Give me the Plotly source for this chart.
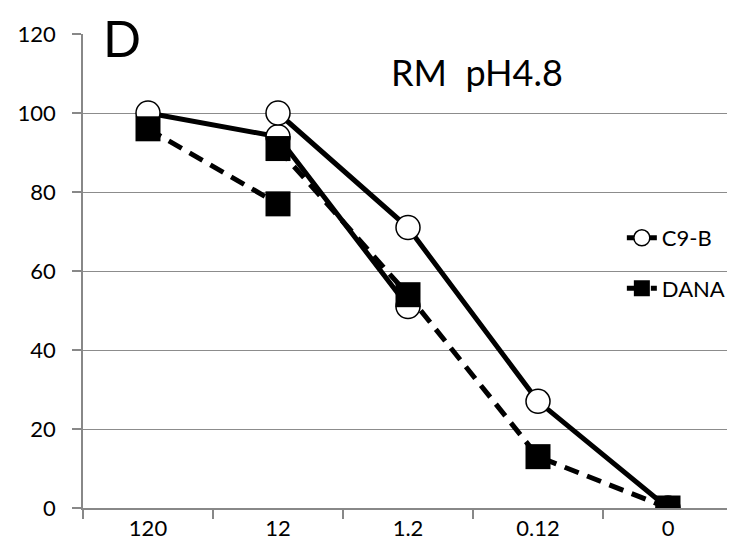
import plotly.graph_objects as go

x_labels = ["120", "12", "1.2", "0.12", "0"]
c9b_upper = [None, 100, 71, 27, 0]
c9b_lower = [100, 94, 51, None, None]
dana_upper = [96, 77, None, None, None]
dana_lower = [None, 91, 54, 13, 0]
y_ticks = [0, 20, 40, 60, 80, 100, 120]

FONT = "Lato"

circle = dict(symbol="circle", size=24, color="white", line=dict(color="black", width=1.5))
square = dict(symbol="square", size=25, color="black", line=dict(color="black", width=0))
solid = dict(color="black", width=5)
dashed = dict(color="black", width=5, dash="15px,9px")

fig = go.Figure()
fig.add_trace(go.Scatter(x=x_labels, y=c9b_lower, mode="lines+markers", line=solid,
                         marker=circle, showlegend=False, connectgaps=False))
fig.add_trace(go.Scatter(x=x_labels, y=c9b_upper, mode="lines+markers", line=solid,
                         marker=circle, name="C9-B", legendgroup="a", connectgaps=False))
fig.add_trace(go.Scatter(x=x_labels, y=dana_upper, mode="lines+markers", line=dashed,
                         marker=square, showlegend=False, connectgaps=False))
fig.add_trace(go.Scatter(x=x_labels, y=dana_lower, mode="lines+markers", line=dashed,
                         marker=square, name="DANA", legendgroup="b", connectgaps=False))

fig.update_layout(
    width=727, height=547,
    margin=dict(l=75, r=2, t=26, b=47),
    paper_bgcolor="white", plot_bgcolor="white",
    font=dict(family=FONT, size=22, color="black"),
    showlegend=True,
    legend=dict(x=0.829, y=0.614, xanchor="left", yanchor="top",
                bgcolor="rgba(0,0,0,0)", font=dict(size=22, family=FONT),
                tracegroupgap=19, itemsizing="trace"),
    xaxis=dict(type="category", categoryorder="array", categoryarray=x_labels,
               range=[-0.5, 4.5], showgrid=False, showline=True, linecolor="#888888",
               linewidth=1.5, ticks="outside", tickson="boundaries", ticklen=9,
               tickcolor="#888888", tickwidth=1.5, tickfont=dict(size=22, family=FONT),
               zeroline=False),
    yaxis=dict(range=[0, 120], tickvals=y_ticks, showgrid=True, gridcolor="#8c8c8c",
               gridwidth=1.2, showline=True, linecolor="#888888", linewidth=1.5,
               ticks="outside", ticklen=9, tickcolor="#888888", tickwidth=1.5,
               ticklabelstandoff=12,
               tickfont=dict(size=22, family=FONT), zeroline=False),
    annotations=[
        dict(text="D", xref="paper", yref="paper", x=0.06, y=0.9916, xanchor="center",
             yanchor="middle", showarrow=False, font=dict(size=50, family=FONT)),
        dict(text="RM  pH4.8", xref="paper", yref="paper", x=0.606, y=0.919,
             xanchor="center", yanchor="middle", showarrow=False,
             font=dict(size=36, family=FONT)),
    ],
)

fig.write_html("out.html")
